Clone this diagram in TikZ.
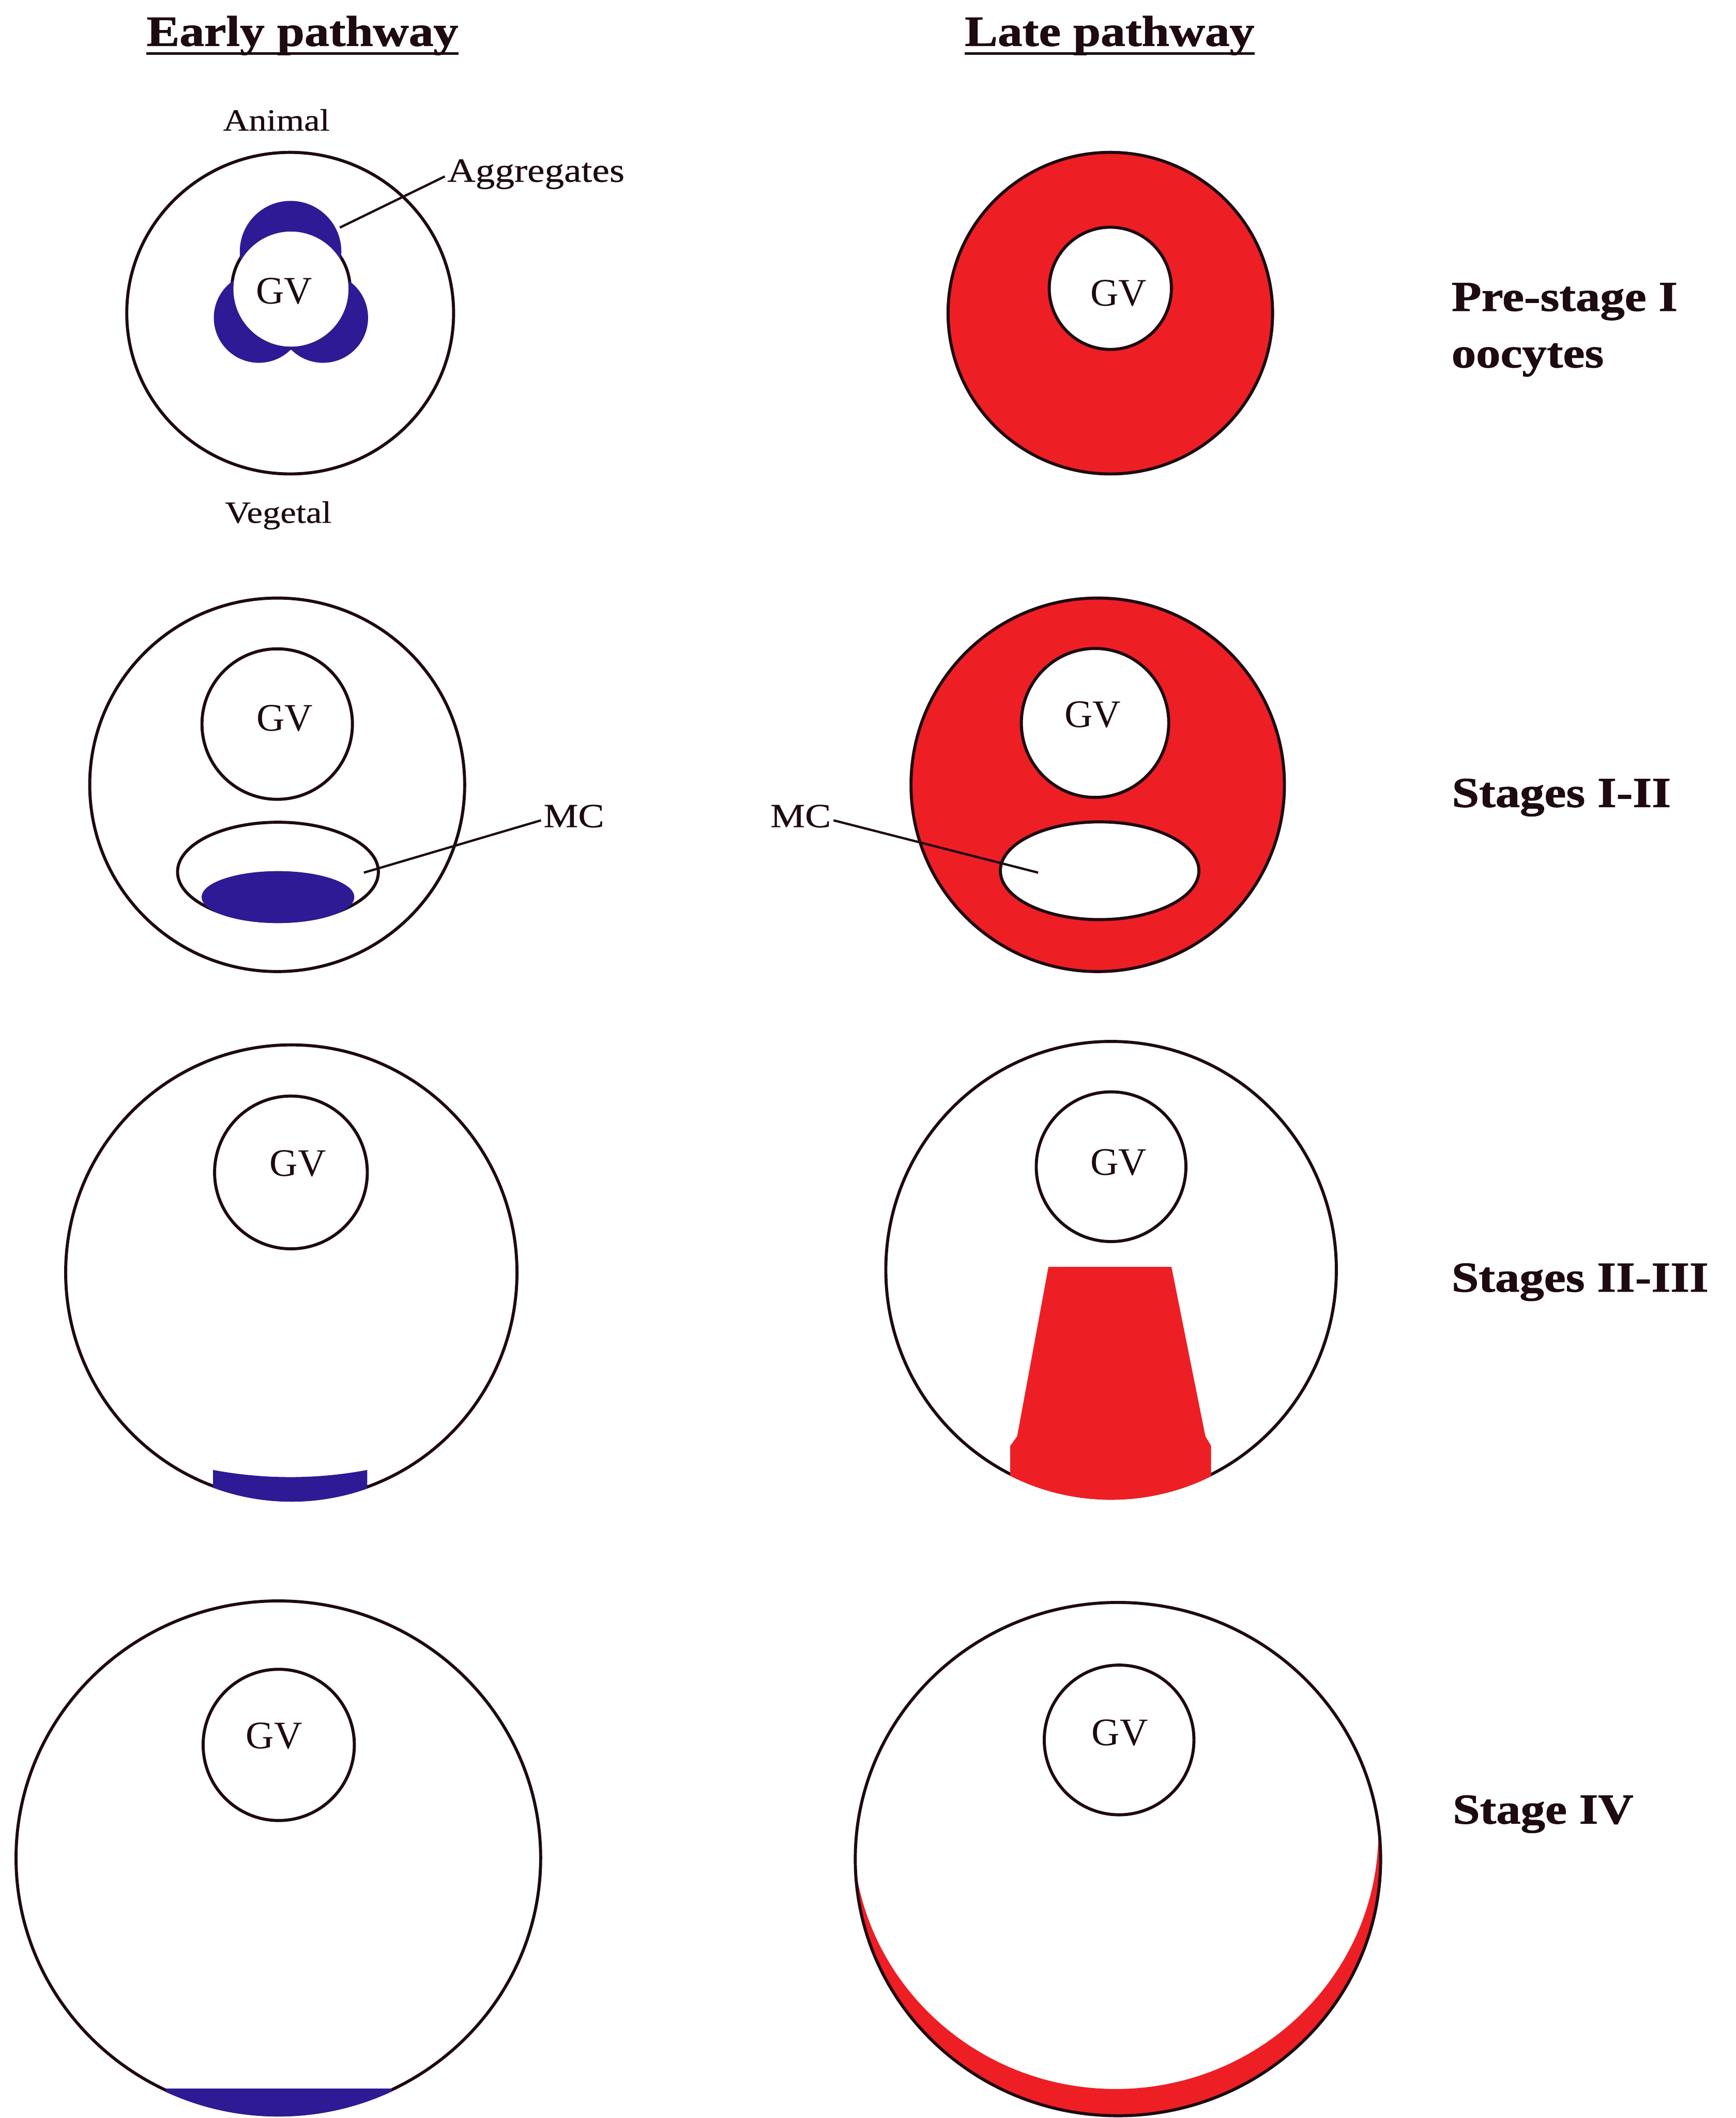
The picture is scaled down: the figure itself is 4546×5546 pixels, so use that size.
\documentclass[tikz,border=0pt]{standalone}
\usepackage{fontspec}
\setmainfont{Liberation Serif}
\newfontfamily\widefont[FakeStretch=1.15, FakeBold=0.5, BoldFeatures={FakeBold=1.2}]{Liberation Serif}
\definecolor{ink}{HTML}{1E0A12}
\definecolor{mcblue}{HTML}{2E1A94}
\definecolor{xred}{HTML}{ED1F24}
\tikzset{
  cell/.style={draw=ink, line width=0.08cm},
  gv/.style={font=\fontsize{29}{32}\selectfont, text=ink, inner sep=0},
  pathway/.style={font=\widefont\bfseries\fontsize{32}{36}\selectfont, text=ink, inner sep=0, anchor=base},
  stage/.style={font=\widefont\bfseries\fontsize{31.7}{36}\selectfont, text=ink, inner sep=0, anchor=base west},
  pole/.style={font=\widefont\fontsize{23}{26}\selectfont, text=ink, inner sep=0, anchor=base},
  part/.style={font=\widefont\fontsize{25.2}{28}\selectfont, text=ink, inner sep=0.06cm},
  leader/.style={draw=ink, line width=0.06cm},
}

\begin{document}
\begin{tikzpicture}[x=0.01cm, y=-0.01cm]
  \fill[white] (0,0) rectangle (4546,5546);
  \useasboundingbox (0,0) rectangle (4546,5546);

  % column headings
  \node[pathway] (early) at (792,120) {Early pathway};
  \node[pathway] (late) at (2906,120) {Late pathway};
  \draw[ink, line width=0.07cm] ([yshift=-0.2cm]early.base west) -- ([yshift=-0.2cm]early.base east);
  \draw[ink, line width=0.07cm] ([yshift=-0.2cm]late.base west) -- ([yshift=-0.2cm]late.base east);

  % pre-stage I, early: aggregates round the GV
  \draw[cell, fill=white] (760,820) ellipse [x radius=428, y radius=421];
  \draw[cell, fill=white] (762,757) circle [radius=155];
  \begin{scope}[even odd rule]
    \clip (300,400) rectangle (1200,1100) (762,757) circle [radius=151];
    \fill[mcblue] (761,659) circle [radius=133];
    \fill[mcblue] (678,832) circle [radius=118];
    \fill[mcblue] (846,832) circle [radius=118];
  \end{scope}
  \node[gv] (gvA) at (744,762) {GV};
  \node[pole] (animal) at (724,342) {Animal};
  \node[pole] (vegetal) at (729,1369) {Vegetal};
  \node[part, anchor=base west] (agg) at (1165,476) {Aggregates};
  \coordinate (aggtip) at (890,596);
  \draw[leader] ([yshift=0.14cm]agg.base west) -- (aggtip);

  % pre-stage I, late
  \draw[cell, fill=xred] (2908,820) ellipse [x radius=425, y radius=421];
  \draw[cell, fill=white] (2908,755) circle [radius=160];
  \node[gv] (gvB) at (2930,768) {GV};

  % stages I-II, early: MC with the blue cap
  \draw[cell, fill=white] (726,2055) ellipse [x radius=491, y radius=489];
  \draw[cell] (726,1896) circle [radius=197];
  \draw[cell] (728,2283) ellipse [x radius=263, y radius=130];
  \fill[mcblue] (728,2349) ellipse [x radius=200, y radius=68];
  \node[gv] (gvC) at (746,1881) {GV};
  \node[part, anchor=base west] (mcA) at (1417,2166) {MC};
  \coordinate (mcAtip) at (953,2285);
  \draw[leader] ([yshift=0.18cm]mcA.base west) -- (mcAtip);

  % stages I-II, late
  \draw[cell, fill=xred] (2875,2055) ellipse [x radius=489, y radius=489];
  \draw[cell, fill=white] (2868,1893) ellipse [x radius=193, y radius=195];
  \draw[cell, fill=white] (2880,2280) ellipse [x radius=260, y radius=128];
  \node[gv] (gvD) at (2862,1871) {GV};
  \node[part, anchor=base east] (mcB) at (2183,2166) {MC};
  \coordinate (mcBtip) at (2719,2285);
  \draw[leader] ([yshift=0.18cm]mcB.base east) -- (mcBtip);

  % stages II-III, early
  \draw[cell] (763,3332) ellipse [x radius=591, y radius=596];
  \draw[cell] (762,3070) circle [radius=200];
  \begin{scope}
    \clip (763,3332) ellipse [x radius=595, y radius=600];
    \fill[mcblue] (558,3849) .. controls (690,3874) and (830,3874) .. (962,3849)
      -- (962,3960) -- (558,3960) -- cycle;
  \end{scope}
  \node[gv] (gvE) at (780,3046) {GV};

  % stages II-III, late: the wedge down to the vegetal pole
  \draw[cell] (2910,3325) ellipse [x radius=590, y radius=598];
  \draw[cell] (2910,3055) circle [radius=196];
  \begin{scope}
    \clip (2910,3325) ellipse [x radius=594, y radius=602];
    \fill[xred] (2746,3317) -- (3068,3317) -- (3157,3761) -- (3172,3786) -- (3172,3990)
      -- (2646,3990) -- (2646,3786) -- (2664,3761) -- cycle;
  \end{scope}
  \node[gv] (gvF) at (2930,3044) {GV};

  % stage IV, early
  \draw[cell] (729,4865) ellipse [x radius=687, y radius=673];
  \draw[cell] (730,4569) circle [radius=198];
  \begin{scope}
    \clip (729,4865) ellipse [x radius=691, y radius=677];
    \fill[mcblue] (435,5469) rectangle (1026,5560);
  \end{scope}
  \node[gv] (gvG) at (718,4545) {GV};

  % stage IV, late: vegetal crescent
  \begin{scope}[even odd rule]
    \clip (2928,4868) ellipse [x radius=688, y radius=672];
    \fill[xred] (2200,4100) rectangle (3700,5560)
      (2922,4798) ellipse [x radius=688, y radius=672];
  \end{scope}
  \draw[cell] (2928,4868) ellipse [x radius=688, y radius=672];
  \draw[cell] (2931,4556) circle [radius=196];
  \node[gv] (gvH) at (2933,4537) {GV};

  % stage names
  \node[stage] (pre) at (3801,814) {Pre-stage I};
  \node[stage] (preb) at (3801,962) {oocytes};
  \node[stage] (stA) at (3802,2113) {Stages I-II};
  \node[stage] (stB) at (3801,3382) {Stages II-III};
  \node[stage] (stC) at (3804,4775) {Stage IV};
\end{tikzpicture}
\end{document}
